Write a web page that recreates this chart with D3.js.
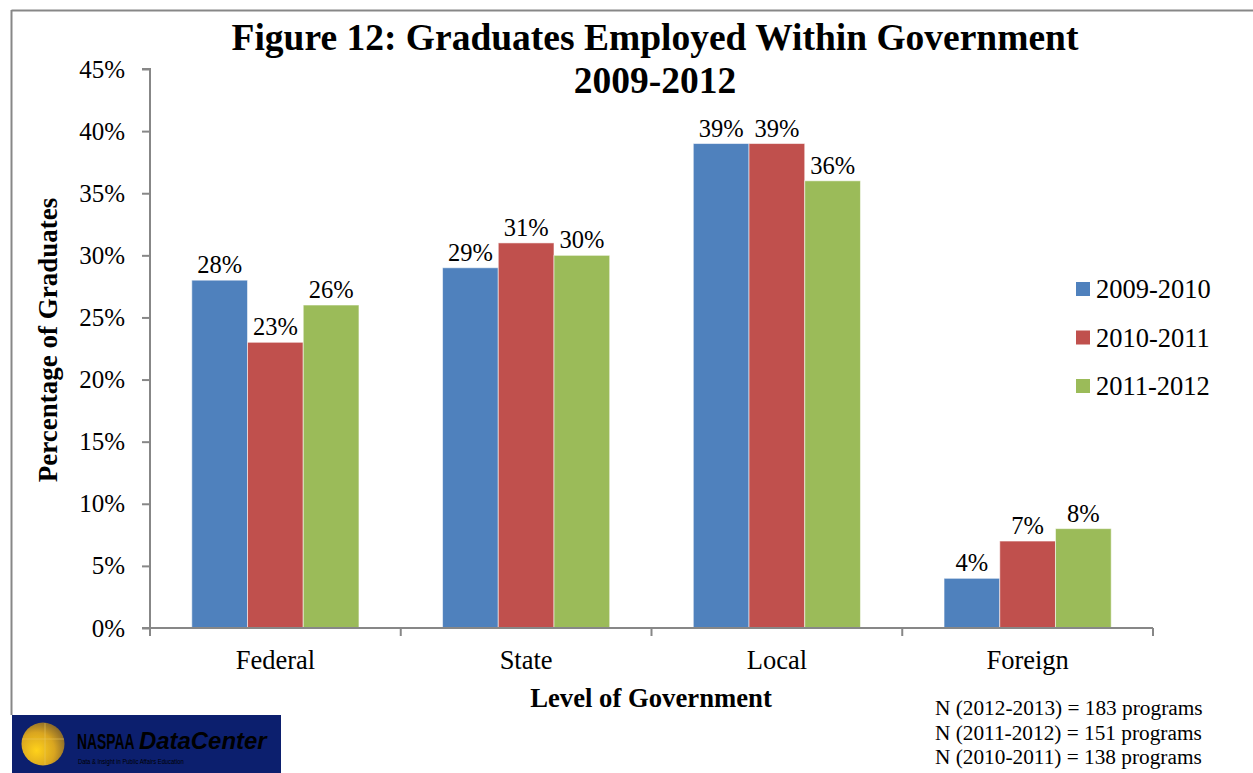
<!DOCTYPE html>
<html>
<head>
<meta charset="utf-8">
<script src="https://cdn.jsdelivr.net/npm/d3@7"></script>
<style>
  html, body { margin: 0; padding: 0; background: #fff; }
  svg { display: block; }
  text { font-family: "Liberation Serif", "Times New Roman", serif; fill: #000; }
  text.sans, text.sans tspan { font-family: "Liberation Sans", Arial, sans-serif; }
</style>
</head>
<body>
<svg id="chart" width="1253" height="773"></svg>
<script>
const categories = ["Federal", "State", "Local", "Foreign"];
const seriesNames = ["2009-2010", "2010-2011", "2011-2012"];
const seriesColors = ["#4F81BD", "#C0504D", "#9BBB59"];
const values2009 = [28, 29, 39, 4];
const values2010 = [23, 31, 39, 7];
const values2011 = [26, 30, 36, 8];
const yTicks = [0, 5, 10, 15, 20, 25, 30, 35, 40, 45];
const notes = ["N (2012-2013) = 183 programs", "N (2011-2012) = 151 programs", "N (2010-2011) = 138 programs"];
const titleLines = ["Figure 12: Graduates Employed Within Government", "2009-2012"];

(function () {
const seriesValues = [values2009, values2010, values2011];
const svg = d3.select("#chart");
const axisColor = "#878787";

// frame lines
svg.append("line").attr("x1", 11.5).attr("x2", 1253).attr("y1", 10.5).attr("y2", 10.5)
  .attr("stroke", axisColor).attr("stroke-width", 2);
svg.append("line").attr("x1", 11.5).attr("x2", 11.5).attr("y1", 10).attr("y2", 715)
  .attr("stroke", axisColor).attr("stroke-width", 2);

const pLeft = 150, pRight = 1153, pTop = 69, pBottom = 628;
const x0 = d3.scaleBand().domain(categories).range([pLeft, pRight]).padding(0);
const x1 = d3.scaleBand().domain(seriesNames).range([0, x0.bandwidth()]).paddingInner(0).paddingOuter(0.75);
const y = d3.scaleLinear().domain([0, 45]).range([pBottom, pTop]);

// y axis
const yAxis = d3.axisLeft(y).tickValues(yTicks).tickSize(8).tickPadding(17).tickFormat(d => d + "%");
const gy = svg.append("g").attr("transform", `translate(${pLeft},0)`).call(yAxis);
gy.select(".domain").attr("stroke", axisColor).attr("stroke-width", 2).attr("d", `M-8,${pTop}H0V${pBottom}`);
gy.selectAll(".tick line").attr("stroke", axisColor).attr("stroke-width", 2);
gy.selectAll(".tick text").attr("font-size", 25).attr("fill", "#000");

// bars
const groups = svg.append("g").selectAll("g").data(categories).join("g")
  .attr("transform", d => `translate(${x0(d)},0)`);
groups.selectAll("rect")
  .data((c, ci) => seriesNames.map((s, si) => ({ s, si, v: seriesValues[si][ci] })))
  .join("rect")
  .attr("x", d => x1(d.s))
  .attr("y", d => y(d.v))
  .attr("width", x1.bandwidth())
  .attr("height", d => y(0) - y(d.v))
  .attr("fill", d => seriesColors[d.si])
  .attr("stroke", "rgba(255,255,255,0.55)")
  .attr("stroke-width", 1);
groups.selectAll("text.val")
  .data((c, ci) => seriesNames.map((s, si) => ({ s, si, v: seriesValues[si][ci] })))
  .join("text")
  .attr("class", "val")
  .attr("x", d => x1(d.s) + x1.bandwidth() / 2)
  .attr("y", d => y(d.v) - 7)
  .attr("text-anchor", "middle")
  .attr("font-size", 24.5)
  .text(d => d.v + "%");

// x axis
const xAxis = d3.axisBottom(x0).tickSize(0).tickPadding(22);
const gx = svg.append("g").attr("transform", `translate(0,${pBottom})`).call(xAxis);
gx.select(".domain").attr("stroke", axisColor).attr("stroke-width", 2).attr("d", `M${pLeft - 8},0H${pRight}`);
gx.selectAll(".tick text").attr("font-size", 26.5).attr("fill", "#000").attr("dy", "0.71em");
const boundaries = categories.map(c => x0(c)).concat([pRight]);
svg.append("g").selectAll("line").data(boundaries).join("line")
  .attr("x1", d => d).attr("x2", d => d)
  .attr("y1", pBottom).attr("y2", pBottom + 8)
  .attr("stroke", axisColor).attr("stroke-width", 2);

// title
svg.append("g").selectAll("text").data(titleLines).join("text")
  .attr("x", 655).attr("y", (d, i) => 50 + i * 43)
  .attr("text-anchor", "middle").attr("font-size", 37.5).attr("font-weight", "bold")
  .text(d => d);

// axis titles
svg.append("text").attr("transform", "translate(57,340) rotate(-90)")
  .attr("text-anchor", "middle").attr("font-size", 27).attr("font-weight", "bold")
  .text("Percentage of Graduates");
svg.append("text").attr("x", 651).attr("y", 707)
  .attr("text-anchor", "middle").attr("font-size", 26.7).attr("font-weight", "bold")
  .text("Level of Government");

// legend
const lg = svg.append("g").selectAll("g").data(seriesNames).join("g")
  .attr("transform", (d, i) => `translate(1076,${289 + i * 48.5})`);
lg.append("rect").attr("x", 0).attr("y", -7).attr("width", 14).attr("height", 14)
  .attr("fill", (d, i) => seriesColors[i]);
lg.append("text").attr("x", 20).attr("y", 0).attr("dy", "0.35em").attr("font-size", 26.5).text(d => d);

// notes
svg.append("g").selectAll("text").data(notes).join("text")
  .attr("x", 935).attr("y", (d, i) => 715 + i * 24.5)
  .attr("font-size", 21.3).text(d => d);

// logo
const defs = svg.append("defs");
const rg = defs.append("radialGradient").attr("id", "sphere").attr("cx", "35%").attr("cy", "65%").attr("r", "70%");
rg.append("stop").attr("offset", "0%").attr("stop-color", "#ffd21a");
rg.append("stop").attr("offset", "60%").attr("stop-color", "#d9a520");
rg.append("stop").attr("offset", "100%").attr("stop-color", "#8a6a2a");
const logo = svg.append("g").attr("transform", "translate(12,715)");
logo.append("rect").attr("width", 269).attr("height", 58).attr("fill", "#0c1f6e");
logo.append("circle").attr("cx", 31).attr("cy", 29).attr("r", 21.5).attr("fill", "url(#sphere)");
logo.append("line").attr("x1", 10).attr("x2", 52).attr("y1", 24).attr("y2", 24).attr("stroke", "#e8c860").attr("stroke-width", 0.8).attr("opacity", 0.7);
logo.append("line").attr("x1", 33).attr("x2", 33).attr("y1", 8).attr("y2", 50).attr("stroke", "#e8c860").attr("stroke-width", 0.8).attr("opacity", 0.7);
logo.append("g").attr("transform", "translate(65,34) scale(0.63,1)")
  .append("text").attr("class", "sans").attr("x", 0).attr("y", 0).attr("font-size", 22)
  .attr("font-weight", "bold").attr("fill", "#ffffff").text("NASPAA");
logo.append("g").attr("transform", "translate(127,34) scale(1.04,1)")
  .append("text").attr("class", "sans").attr("x", 0).attr("y", 0).attr("font-size", 23)
  .attr("font-weight", "bold").attr("font-style", "italic").attr("fill", "#f2c21b").text("DataCenter");
logo.append("g").attr("transform", "translate(66,49) scale(0.9,1)")
  .append("text").attr("class", "sans").attr("x", 0).attr("y", 0).attr("font-size", 6.5)
  .attr("fill", "#7fa8e0").text("Data & Insight in Public Affairs Education");
})();
</script>
</body>
</html>
